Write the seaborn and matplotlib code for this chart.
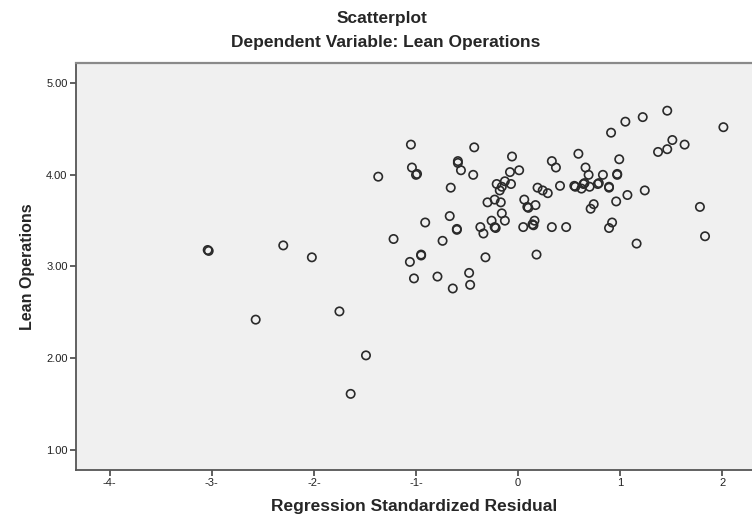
import matplotlib
matplotlib.use("Agg")
import matplotlib.pyplot as plt
import seaborn as sns
import pandas as pd

# regression standardized residual vs dependent variable
residual = [-3.04, -3.03, -2.30, -2.02, -2.57, -1.75, -1.49, -1.64, -1.37, -1.22,
            -1.05, -1.04, -1.00, -0.99, -0.95, -0.95, -1.06, -1.02, -0.91, -0.79,
            -0.74, -0.66, -0.67, -0.60, -0.60, -0.59, -0.59, -0.56, -0.64, -0.48,
            -0.47, -0.44, -0.43, -0.32, -0.37, -0.34, -0.26, -0.23, -0.22, -0.13,
            -0.16, -0.30, -0.23, -0.17, -0.21, -0.13, -0.16, -0.18, -0.07, -0.08,
            0.01, -0.06, 0.05, 0.14, 0.15, 0.16, 0.18, 0.06, 0.09, 0.10,
            0.17, 0.19, 0.24, 0.29, 0.33, 0.37, 0.41, 0.33, 0.47, 0.59,
            0.66, 0.69, 0.83, 0.97, 0.97, 0.99, 0.91, 1.05, 1.22, 1.46,
            2.01, 1.37, 1.46, 1.51, 1.63, 0.55, 0.56, 0.64, 0.65, 0.62,
            0.70, 0.78, 0.79, 0.89, 0.89, 0.96, 1.07, 1.24, 0.74, 0.71,
            0.92, 0.89, 1.16, 1.78, 1.83]
lean_ops = [3.18, 3.17, 3.23, 3.10, 2.42, 2.51, 2.03, 1.61, 3.98, 3.30,
            4.33, 4.08, 4.00, 4.01, 3.13, 3.12, 3.05, 2.87, 3.48, 2.89,
            3.28, 3.86, 3.55, 3.40, 3.41, 4.13, 4.15, 4.05, 2.76, 2.93,
            2.80, 4.00, 4.30, 3.10, 3.43, 3.36, 3.50, 3.43, 3.42, 3.50,
            3.58, 3.70, 3.73, 3.70, 3.90, 3.93, 3.87, 3.83, 3.90, 4.03,
            4.05, 4.20, 3.43, 3.46, 3.45, 3.50, 3.13, 3.73, 3.65, 3.64,
            3.67, 3.86, 3.83, 3.80, 4.15, 4.08, 3.88, 3.43, 3.43, 4.23,
            4.08, 4.00, 4.00, 4.00, 4.01, 4.17, 4.46, 4.58, 4.63, 4.70,
            4.52, 4.25, 4.28, 4.38, 4.33, 3.88, 3.87, 3.90, 3.91, 3.85,
            3.87, 3.90, 3.91, 3.86, 3.87, 3.71, 3.78, 3.83, 3.68, 3.63,
            3.48, 3.42, 3.25, 3.65, 3.33]

x_ticks = [-4, -3, -2, -1, 0, 1, 2]
x_tick_labels = ["-4-", "-3-", "-2-", "-1-", "0", "1", "2"]
y_ticks = [1, 2, 3, 4, 5]
y_tick_labels = ["1.00", "2.00", "3.00", "4.00", "5.00"]

df = pd.DataFrame({"resid": residual, "lean": lean_ops})

sns.set_style("white")
plt.rcParams["font.family"] = ["Liberation Sans", "DejaVu Sans"]

fig = plt.figure(figsize=(7.52, 5.21), dpi=100)
ax = fig.add_axes([0.101, 0.098, 0.899, 0.781])
ax.set_facecolor("#f0f0f0")

sns.scatterplot(data=df, x="resid", y="lean", ax=ax, marker="o", s=36,
                facecolors="none", edgecolor="#2a2a2a", linewidth=1.2)

ax.set_xlim(-4.33, 2.29)
ax.set_ylim(0.78, 5.22)
ax.set_xticks(x_ticks)
ax.set_xticklabels(x_tick_labels, fontsize=8)
ax.set_yticks(y_ticks)
ax.set_yticklabels(y_tick_labels, fontsize=8)
ax.tick_params(axis="both", direction="out", length=4, width=1.2, color="#444444",
               pad=2, labelcolor="#222222", bottom=True, left=True)

for side in ["left", "bottom"]:
    ax.spines[side].set_color("#555555")
    ax.spines[side].set_linewidth(1.3)
ax.spines["top"].set_color("#8a8a8a")
ax.spines["top"].set_linewidth(1.6)
ax.spines["right"].set_visible(False)

ax.set_xlabel("Regression Standardized Residual", fontsize=12.5, fontweight="bold", labelpad=8)
ax.set_ylabel("Lean Operations", fontsize=11.5, fontweight="bold", labelpad=8)

fig.text(0.508, 0.965, "Scatterplot", ha="center", va="center", fontsize=12.5, fontweight="bold")
fig.text(0.513, 0.918, "Dependent Variable: Lean Operations", ha="center", va="center",
         fontsize=12.5, fontweight="bold")

fig.savefig("out.png", dpi=100)
